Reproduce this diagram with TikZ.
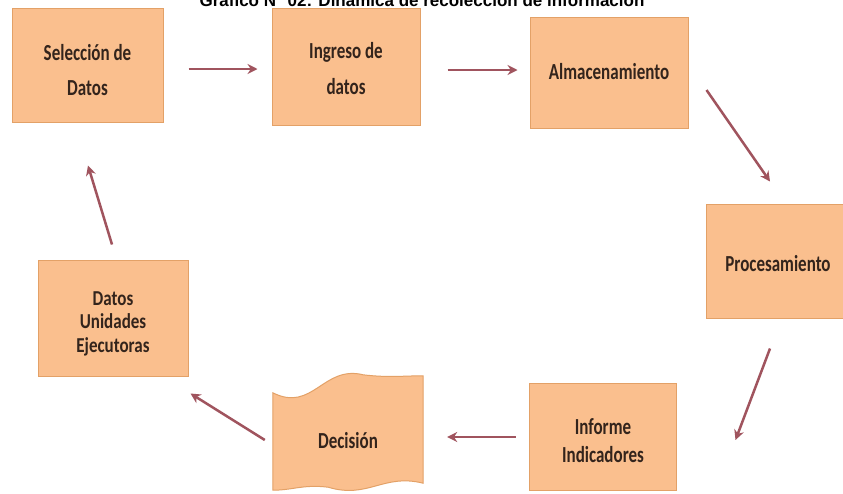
\documentclass[tikz,border=0pt]{standalone}
\usepackage{fontspec}
\usepackage{graphicx}
\setmainfont{Carlito}
\newfontfamily\titlefont{Liberation Sans}
\usetikzlibrary{arrows.meta}
\definecolor{boxfill}{HTML}{FABF8E}
\definecolor{boxedge}{HTML}{E3A167}
\definecolor{arrcol}{HTML}{A0545E}
\definecolor{txtcol}{HTML}{33241C}
% vertically stretched, centred text lines, moved down: scale, baselineskip, shift, lines
\newcommand\vtxt[4]{\raisebox{-#3}[\height][\depth]{\scalebox{1}[#1]{\fontsize{17}{#2}\selectfont\bfseries\begin{tabular}{@{}c@{}}#4\end{tabular}}}}
\begin{document}
\begin{tikzpicture}[x=1pt,y=1pt,
  procbox/.style={draw=boxedge,fill=boxfill,line width=1pt,align=center,
    text=txtcol,inner sep=0pt},
  arr/.style={draw=arrcol,line width=2.5pt,-{Stealth[length=10pt,width=10pt]}}]
\useasboundingbox (0,0) rectangle (843,-493);
\fill[white] (0,0) rectangle (843,-493);
% title (cut off at top, as in the reference)
\node[anchor=base,font=\titlefont\fontsize{17}{20}\selectfont\bfseries] (title) at (422,-6) {Gráfico N° 02: Dinámica de recolección de información};
% boxes
\node[procbox,minimum width=151,minimum height=114] (sel) at (87.5,-65) {\vtxt{1.35}{26}{6pt}{Selección de\\Datos}};
\node[procbox,minimum width=148,minimum height=117] (ing) at (346,-66.5) {\vtxt{1.35}{26}{3pt}{Ingreso de\\datos}};
\node[procbox,minimum width=158,minimum height=111] (alm) at (609,-72.5) {\vtxt{1.35}{20}{2pt}{Almacenamiento}};
\node[procbox,minimum width=144,minimum height=114] (proc) at (778,-261.5) {\vtxt{1.35}{20}{5pt}{Procesamiento}};
\node[procbox,minimum width=147,minimum height=107] (inf) at (603,-436.5) {\vtxt{1.35}{21}{6pt}{Informe\\Indicadores}};
\node[procbox,minimum width=150,minimum height=116] (dat) at (113,-318) {\vtxt{1.25}{19}{6pt}{Datos\\Unidades\\Ejecutoras}};
% decision (tape shape)
\node[minimum width=150,minimum height=100,inner sep=0pt] (dec) at (348,-437) {};
\path[draw=boxedge,fill=boxfill,line width=1pt]
  ([yshift=-6]dec.north west) .. controls +(40,-20) and +(-40,10) .. ([xshift=-60,yshift=12]dec.north east)
  .. controls +(25,-3) and +(-20,0) .. ([yshift=11]dec.north east)
  -- ([yshift=4]dec.south east)
  .. controls +(-40,10) and +(40,-12) .. ([xshift=-95,yshift=0]dec.south east)
  .. controls +(-25,3) and +(20,0) .. ([yshift=-3]dec.south west) -- cycle;
\node[text=txtcol,inner sep=0pt] (dectext) at (dec.center) {\vtxt{1.35}{20}{6pt}{Decisión}};
% connectors
\draw[arr] ([shift={(25,-4)}]sel.east) -- ([shift={(-14,-2.5)}]ing.west);
\draw[arr] ([shift={(27,-3.5)}]ing.east) -- ([shift={(-12,2.5)}]alm.west);
\draw[arr] ([shift={(18,-17.5)}]alm.east) -- ([shift={(-8,22.5)}]proc.north);
\draw[arr] ([shift={(-8,-29.5)}]proc.south) -- ([shift={(58.5,-3.5)}]inf.east);
\draw[arr] ([shift={(-13.5,-0.5)}]inf.west) -- ([shift={(24,0)}]dec.east);
\draw[arr] ([shift={(-8,-3)}]dec.west) -- ([shift={(2,-17)}]dat.south east);
\draw[arr] ([shift={(-1,15)}]dat.north) -- ([shift={(0.5,-43)}]sel.south);
\end{tikzpicture}
\end{document}
